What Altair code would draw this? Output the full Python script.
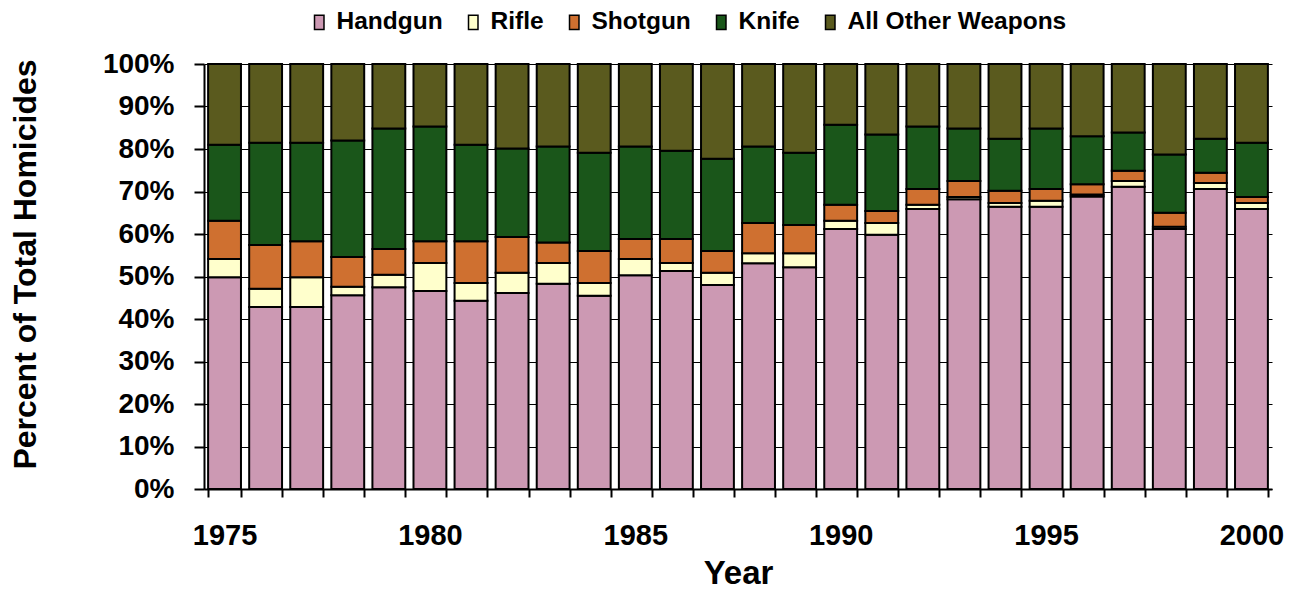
import altair as alt
import pandas as pd

years = list(range(1975, 2001))
weapons = ["Handgun", "Rifle", "Shotgun", "Knife", "All Other Weapons"]
colors = ["#CC99B3", "#FFFFCC", "#CF7030", "#1A561A", "#5A5A1E"]

handgun = [49.8, 42.8, 42.8, 45.6, 47.5, 46.6, 44.3, 46.1, 48.3, 45.5, 50.3, 51.3, 48.0,
           53.1, 52.2, 61.2, 59.8, 65.9, 68.2, 66.4, 66.4, 68.8, 71.1, 61.2, 70.6, 65.9]
rifle = [4.3, 4.3, 7.0, 2.0, 2.9, 6.6, 4.2, 4.8, 4.9, 3.0, 3.8, 1.9, 2.9,
         2.4, 3.3, 1.9, 2.8, 1.0, 0.5, 0.9, 1.4, 0.5, 1.4, 0.5, 1.4, 1.4]
shotgun = [9.0, 10.3, 8.5, 7.0, 6.1, 5.1, 9.8, 8.4, 4.8, 7.5, 4.7, 5.6, 5.1,
           7.1, 6.6, 3.8, 2.8, 3.7, 3.8, 2.9, 2.8, 2.4, 2.4, 3.3, 2.4, 1.4]
knife = [17.9, 24.1, 23.2, 27.4, 28.3, 27.0, 22.7, 20.8, 22.6, 23.1, 21.8, 20.8, 21.7,
         18.0, 17.0, 18.8, 18.0, 14.7, 12.3, 12.2, 14.2, 11.3, 9.0, 13.7, 8.0, 12.8]
other = [19.0, 18.5, 18.5, 18.0, 15.2, 14.7, 19.0, 19.9, 19.4, 20.9, 19.4, 20.4, 22.3,
         19.4, 20.9, 14.3, 16.6, 14.7, 15.2, 17.6, 15.2, 17.0, 16.1, 21.3, 17.6, 18.5]

series = [handgun, rifle, shotgun, knife, other]
rows = []
for wi, (w, vals) in enumerate(zip(weapons, series)):
    for y, v in zip(years, vals):
        rows.append({"Year": y, "Weapon": w, "Percent": v, "idx": wi})
df = pd.DataFrame(rows)

FONT = "Liberation Sans"

chart = alt.Chart(df).mark_bar(stroke="black", strokeWidth=2).encode(
    x=alt.X("Year:O",
            scale=alt.Scale(paddingInner=0.2, paddingOuter=0.1),
            axis=alt.Axis(title="Year", tickBand="extent", labelAngle=0,
                          labelExpr="datum.value % 5 == 0 ? datum.label : ''",
                          labelOverlap=False, tickSize=8, tickWidth=2, tickColor="black",
                          domainColor="black", domainWidth=2, labelPadding=24,
                          labelFontSize=29, labelFont=FONT, labelFontWeight="bold",
                          labelColor="black", grid=False,
                          titleFontSize=33, titleFont=FONT, titleFontWeight="bold",
                          titleColor="black", titleX=534, titleY=84,
                          titleBaseline="middle", titleAlign="center")),
    y=alt.Y("Percent:Q", stack="zero",
            scale=alt.Scale(domain=[0, 100], nice=False),
            axis=alt.Axis(title="Percent of Total Homicides", values=list(range(0, 101, 10)),
                          labelExpr="datum.value + '%'", grid=True, gridColor="black",
                          gridWidth=1, gridOpacity=1, tickSize=10, tickWidth=2, tickColor="black",
                          domainColor="black", domainWidth=2, labelPadding=20,
                          labelFontSize=28, labelFont=FONT, labelFontWeight="bold",
                          labelColor="black",
                          titleFontSize=32, titleFont=FONT, titleFontWeight="bold",
                          titleColor="black", titleAngle=270, titleX=-179, titleY=200,
                          titleBaseline="middle", titleAlign="center")),
    color=alt.Color("Weapon:N",
                    scale=alt.Scale(domain=weapons, range=colors),
                    legend=alt.Legend(orient="none", legendX=103, legendY=-54,
                                      direction="horizontal", title=None,
                                      symbolType="M-1,-1.5L1,-1.5L1,1.5L-1,1.5Z",
                                      symbolSize=90, symbolStrokeColor="black",
                                      symbolStrokeWidth=1.5, symbolOpacity=1,
                                      labelFontSize=24.5, labelFont=FONT, labelFontWeight="bold",
                                      labelColor="black", labelLimit=500,
                                      columnPadding=18, labelOffset=5,
                                      padding=0)),
    order=alt.Order("idx:Q", sort="ascending"),
).properties(
    width=1068,
    height=425,
    autosize=alt.AutoSizeParams(type="none"),
    padding={"left": 196, "top": 56, "right": 14, "bottom": 106},
).configure_view(stroke=None)

chart.save("out.html", embed_options={"renderer": "svg", "actions": False})
